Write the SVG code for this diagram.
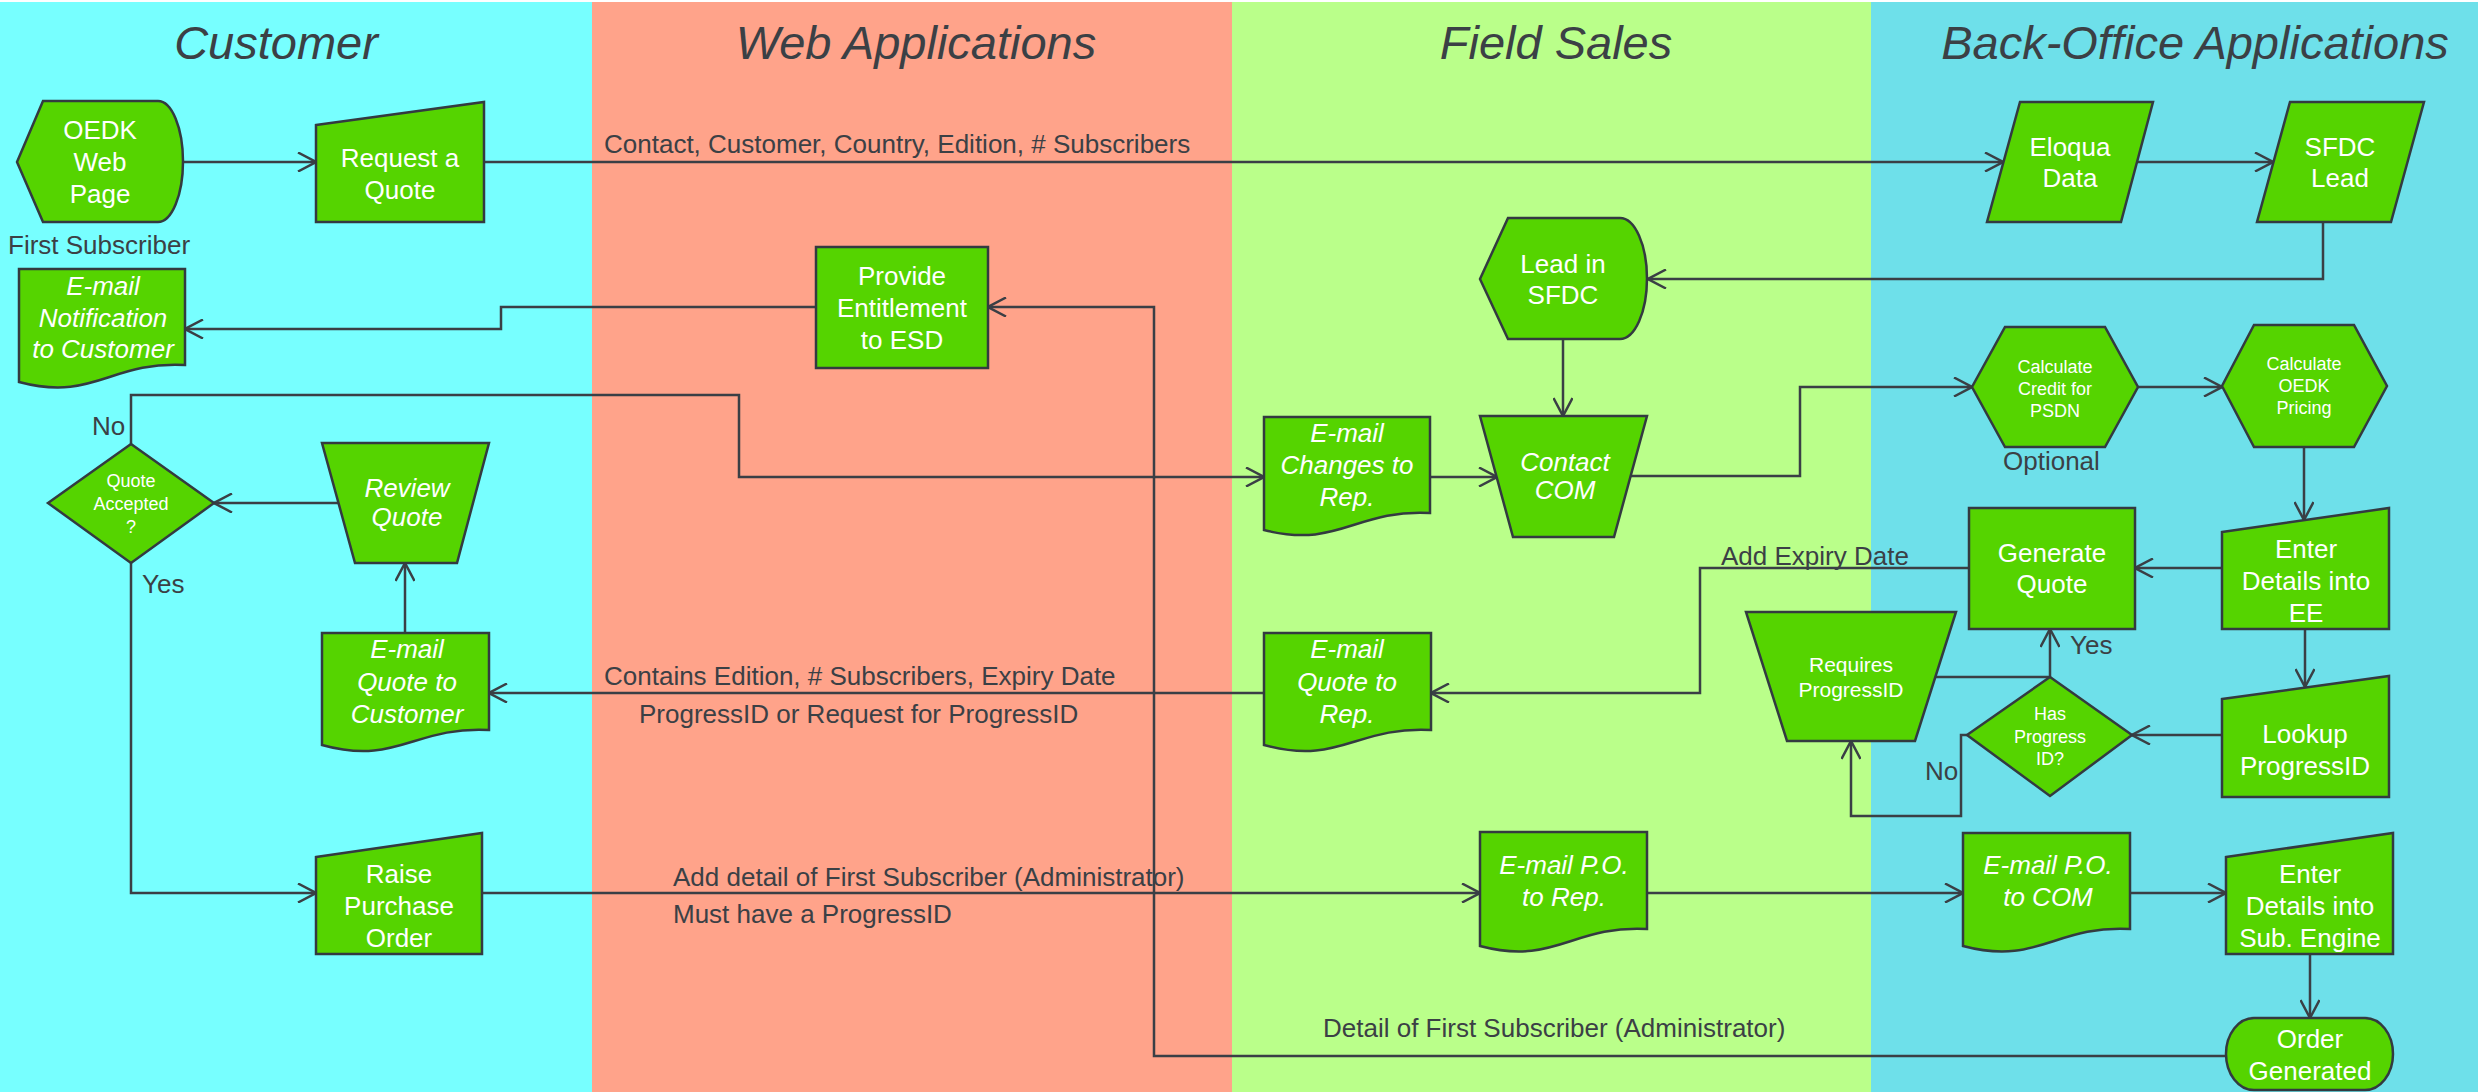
<svg xmlns="http://www.w3.org/2000/svg" width="2478" height="1092" viewBox="0 0 2478 1092">
<defs>
<marker id="ah" viewBox="0 0 20 20" refX="19" refY="10" markerWidth="20" markerHeight="20" markerUnits="userSpaceOnUse" orient="auto">
<path d="M1,0.5 L19,10 L1,19.5" fill="none" stroke="#3a3f45" stroke-width="2.5"/>
</marker>
</defs>
<style>
.node{fill:#55d400;stroke:#333a40;stroke-width:2.5}
.t{font-family:"Liberation Sans",Arial,sans-serif;font-size:26px;fill:#ffffff;text-anchor:middle}
.i{font-style:italic}
.s{font-size:18px}
.lbl{font-family:"Liberation Sans",Arial,sans-serif;font-size:26px;fill:#3b4045}
.title{font-family:"Liberation Sans",Arial,sans-serif;font-size:47px;font-style:italic;fill:#3b4045;text-anchor:middle}
.c{fill:none;stroke:#3a3f45;stroke-width:2.5}
.c.a{marker-end:url(#ah)}
</style>
<rect x="0" y="0" width="2478" height="1092" fill="#ffffff"/>
<g id="lanes">
<rect x="0" y="2" width="592" height="1090" fill="#77ffff"/>
<rect x="592" y="2" width="640" height="1090" fill="#ffa38a"/>
<rect x="1232" y="2" width="639" height="1090" fill="#baff8a"/>
<rect x="1871" y="2" width="607" height="1090" fill="#6ee0ea"/>
<text class="title" x="276" y="59">Customer</text>
<text class="title" x="916" y="59">Web Applications</text>
<text class="title" x="1556" y="59">Field Sales</text>
<text class="title" x="2195" y="59">Back-Office Applications</text>
</g>
<g id="connectors">
<path class="c a" d="M183,162 H316"/>
<path class="c a" d="M484,162 H2003"/>
<path class="c a" d="M2138,162 H2273"/>
<path class="c a" d="M2323,222 V279 H1648"/>
<path class="c a" d="M1563,339 V416"/>
<path class="c a" d="M1631,476 H1800 V387 H1972"/>
<path class="c a" d="M2138,387 H2222"/>
<path class="c a" d="M2304,447 V520"/>
<path class="c a" d="M2222,568 H2135"/>
<path class="c a" d="M1969,568 H1700 V693 H1431"/>
<path class="c a" d="M1264,693 H489"/>
<path class="c a" d="M405,633 V563"/>
<path class="c a" d="M338,503 H214"/>
<path class="c a" d="M131,444 V395 H739 V477 H1264"/>
<path class="c a" d="M1430,477 H1497"/>
<path class="c a" d="M131,563 V893 H316"/>
<path class="c a" d="M482,893 H1480"/>
<path class="c a" d="M1647,893 H1963"/>
<path class="c a" d="M2130,893 H2226"/>
<path class="c a" d="M2310,954 V1018"/>
<path class="c a" d="M2226,1056 H1154 V307 H988"/>
<path class="c a" d="M816,307 H501 V329 H185"/>
<path class="c a" d="M2305,629 V687"/>
<path class="c a" d="M2222,735 H2132"/>
<path class="c a" d="M2050,677 V629"/>
<path class="c" d="M1935,677 H2050"/>
<path class="c a" d="M1967,735 H1961 V816 H1851 V741"/>
<text class="lbl" x="604" y="153">Contact, Customer, Country, Edition, # Subscribers</text>
<text class="lbl" x="1721" y="565">Add Expiry Date</text>
<text class="lbl" x="604" y="685">Contains Edition, # Subscribers, Expiry Date</text>
<text class="lbl" x="639" y="723">ProgressID or Request for ProgressID</text>
<text class="lbl" x="673" y="886">Add detail of First Subscriber (Administrator)</text>
<text class="lbl" x="673" y="923">Must have a ProgressID</text>
<text class="lbl" x="1323" y="1037">Detail of First Subscriber (Administrator)</text>
<text class="lbl" x="92" y="435">No</text>
<text class="lbl" x="142" y="593">Yes</text>
<text class="lbl" x="2070" y="654">Yes</text>
<text class="lbl" x="1925" y="780">No</text>
</g>
<g id="oedk">
<path class="node" d="M17,162 L43,101 H158 A25,60.5 0 0 1 158,222 H43 Z"/>
<text class="t" x="100" y="139">OEDK</text><text class="t" x="100" y="171">Web</text><text class="t" x="100" y="203">Page</text>
<text class="lbl" x="8" y="254">First Subscriber</text>
</g>
<g id="request-quote">
<path class="node" d="M316,125 L484,102 V222 H316 Z"/>
<text class="t" x="400" y="167">Request a</text><text class="t" x="400" y="199">Quote</text>
</g>
<g id="email-notification">
<path class="node" d="M19,269 H185 V365 C110,361 94,402 19,382 Z"/>
<text class="t i" x="103" y="295">E-mail</text><text class="t i" x="103" y="327">Notification</text><text class="t i" x="103" y="358">to Customer</text>
</g>
<g id="provide-entitlement">
<rect class="node" x="816" y="247" width="172" height="121"/>
<text class="t" x="902" y="285">Provide</text><text class="t" x="902" y="317">Entitlement</text><text class="t" x="902" y="349">to ESD</text>
</g>
<g id="eloqua">
<path class="node" d="M2020,102 H2153 L2121,222 H1987 Z"/>
<text class="t" x="2070" y="156">Eloqua</text><text class="t" x="2070" y="187">Data</text>
</g>
<g id="sfdc-lead">
<path class="node" d="M2290,102 H2424 L2391,222 H2257 Z"/>
<text class="t" x="2340" y="156">SFDC</text><text class="t" x="2340" y="187">Lead</text>
</g>
<g id="lead-in-sfdc">
<path class="node" d="M1480,279 L1508,218 H1620 A27,60.5 0 0 1 1620,339 H1508 Z"/>
<text class="t" x="1563" y="273">Lead in</text><text class="t" x="1563" y="304">SFDC</text>
</g>
<g id="contact-com">
<path class="node" d="M1480,416 H1647 L1614,537 H1513 Z"/>
<text class="t i" x="1565" y="471">Contact</text><text class="t i" x="1565" y="499">COM</text>
</g>
<g id="email-changes">
<path class="node" d="M1264,417 H1430 V513 C1355,509 1339,549 1264,530 Z"/>
<text class="t i" x="1347" y="442">E-mail</text><text class="t i" x="1347" y="474">Changes to</text><text class="t i" x="1347" y="506">Rep.</text>
</g>
<g id="calc-credit">
<path class="node" d="M2005,327 H2105 L2138,387 L2105,447 H2005 L1972,387 Z"/>
<text class="t s" x="2055" y="373">Calculate</text><text class="t s" x="2055" y="395">Credit for</text><text class="t s" x="2055" y="417">PSDN</text>
<text class="lbl" x="2003" y="470">Optional</text>
</g>
<g id="calc-pricing">
<path class="node" d="M2254,325 H2354 L2387,386 L2354,447 H2254 L2222,386 Z"/>
<text class="t s" x="2304" y="370">Calculate</text><text class="t s" x="2304" y="392">OEDK</text><text class="t s" x="2304" y="414">Pricing</text>
</g>
<g id="enter-ee">
<path class="node" d="M2222,532 L2389,508 V629 H2222 Z"/>
<text class="t" x="2306" y="558">Enter</text><text class="t" x="2306" y="590">Details into</text><text class="t" x="2306" y="622">EE</text>
</g>
<g id="generate-quote">
<rect class="node" x="1969" y="508" width="166" height="121"/>
<text class="t" x="2052" y="562">Generate</text><text class="t" x="2052" y="593">Quote</text>
</g>
<g id="quote-accepted">
<path class="node" d="M131,444 L214,503 L131,563 L48,503 Z"/>
<text class="t s" x="131" y="487">Quote</text><text class="t s" x="131" y="510">Accepted</text><text class="t s" x="131" y="533">?</text>
</g>
<g id="review-quote">
<path class="node" d="M322,443 H489 L457,563 H355 Z"/>
<text class="t i" x="407" y="497">Review</text><text class="t i" x="407" y="526">Quote</text>
</g>
<g id="email-quote-customer">
<path class="node" d="M322,633 H489 V730 C414,726 397,766 322,745 Z"/>
<text class="t i" x="407" y="658">E-mail</text><text class="t i" x="407" y="691">Quote to</text><text class="t i" x="407" y="723">Customer</text>
</g>
<g id="email-quote-rep">
<path class="node" d="M1264,633 H1431 V730 C1356,726 1339,766 1264,745 Z"/>
<text class="t i" x="1347" y="658">E-mail</text><text class="t i" x="1347" y="691">Quote to</text><text class="t i" x="1347" y="723">Rep.</text>
</g>
<g id="requires-progressid">
<path class="node" d="M1746,612 H1956 L1915,741 H1787 Z"/>
<text class="t" style="font-size:21px" x="1851" y="672">Requires</text><text class="t" style="font-size:21px" x="1851" y="697">ProgressID</text>
</g>
<g id="has-progressid">
<path class="node" d="M2050,677 L2132,735 L2050,796 L1967,735 Z"/>
<text class="t s" x="2050" y="720">Has</text><text class="t s" x="2050" y="743">Progress</text><text class="t s" x="2050" y="765">ID?</text>
</g>
<g id="lookup-progressid">
<path class="node" d="M2222,699 L2389,676 V797 H2222 Z"/>
<text class="t" x="2305" y="743">Lookup</text><text class="t" x="2305" y="775">ProgressID</text>
</g>
<g id="raise-po">
<path class="node" d="M316,857 L482,833 V954 H316 Z"/>
<text class="t" x="399" y="883">Raise</text><text class="t" x="399" y="915">Purchase</text><text class="t" x="399" y="947">Order</text>
</g>
<g id="email-po-rep">
<path class="node" d="M1480,832 H1647 V929 C1572,925 1555,966 1480,946 Z"/>
<text class="t i" x="1564" y="874">E-mail P.O.</text><text class="t i" x="1564" y="906">to Rep.</text>
</g>
<g id="email-po-com">
<path class="node" d="M1963,833 H2130 V929 C2055,925 2038,966 1963,946 Z"/>
<text class="t i" x="2048" y="874">E-mail P.O.</text><text class="t i" x="2048" y="906">to COM</text>
</g>
<g id="enter-sub-engine">
<path class="node" d="M2226,857 L2393,833 V954 H2226 Z"/>
<text class="t" x="2310" y="883">Enter</text><text class="t" x="2310" y="915">Details into</text><text class="t" x="2310" y="947">Sub. Engine</text>
</g>
<g id="order-generated">
<rect class="node" x="2226" y="1018" width="167" height="72" rx="28" ry="36"/>
<text class="t" x="2310" y="1048">Order</text><text class="t" x="2310" y="1080">Generated</text>
</g>
</svg>
